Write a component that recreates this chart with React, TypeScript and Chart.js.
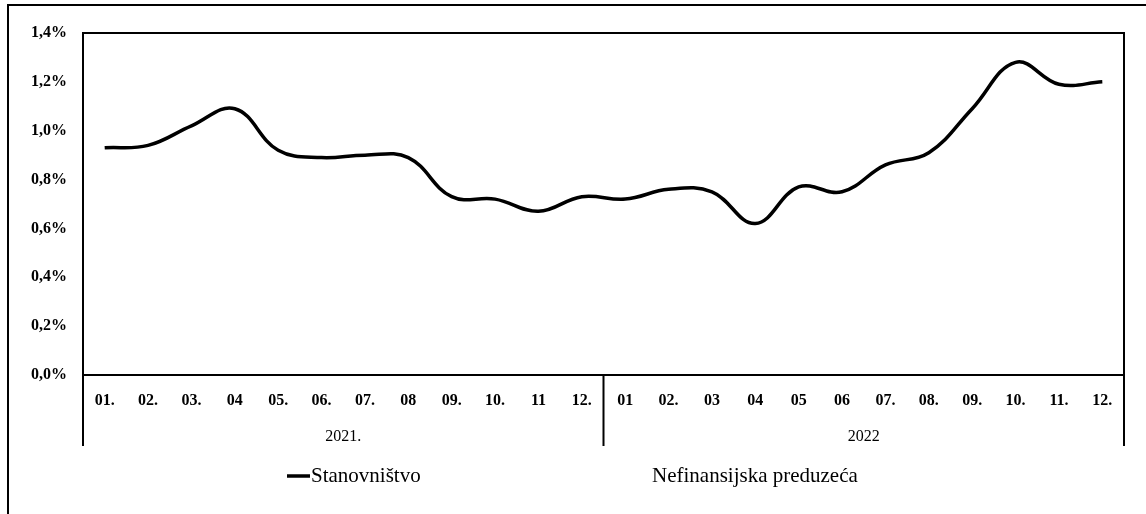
import React, { useEffect, useRef } from 'react';
import { Chart, registerables } from 'chart.js';

Chart.register(...registerables);

const monthLabels = ['01.', '02.', '03.', '04', '05.', '06.', '07.', '08', '09.', '10.', '11', '12.', '01', '02.', '03', '04', '05', '06', '07.', '08.', '09.', '10.', '11.', '12.'];
const yearLabels = ['2021.', '2022'];
const stanovnistvo = [0.93, 0.94, 1.02, 1.09, 0.92, 0.89, 0.9, 0.89, 0.73, 0.72, 0.67, 0.73, 0.72, 0.76, 0.75, 0.62, 0.77, 0.75, 0.86, 0.91, 1.09, 1.28, 1.19, 1.2];
const nefinansijska: (number | null)[] = monthLabels.map(() => null);
const seriesNames = ['Stanovništvo', 'Nefinansijska preduzeća'];

const FONT = "'Liberation Serif', 'Times New Roman', serif";

const framePlugin = {
  id: 'frame',
  afterDraw(chart: any) {
    const ctx = chart.ctx;
    const { left, right, top, bottom } = chart.chartArea;
    const xs = chart.scales.x;
    const sep = (xs.getPixelForValue(11) + xs.getPixelForValue(12)) / 2;
    const lowY = 446;
    ctx.save();
    ctx.strokeStyle = '#000';
    ctx.lineWidth = 2;
    ctx.beginPath();
    // plot box
    ctx.moveTo(left, lowY);
    ctx.lineTo(left, top);
    ctx.lineTo(right, top);
    ctx.lineTo(right, lowY);
    ctx.moveTo(left, bottom);
    ctx.lineTo(right, bottom);
    ctx.moveTo(sep, bottom);
    ctx.lineTo(sep, lowY);
    // outer frame
    ctx.moveTo(8, 514);
    ctx.lineTo(8, 5);
    ctx.lineTo(1146, 5);
    ctx.stroke();

    // year labels
    ctx.fillStyle = '#000';
    ctx.font = `16px ${FONT}`;
    ctx.textAlign = 'center';
    ctx.textBaseline = 'middle';
    ctx.fillText(yearLabels[0], (left + sep) / 2, 437);
    ctx.fillText(yearLabels[1], (sep + right) / 2, 437);

    // legend
    const ly = 476;
    ctx.lineWidth = 3.5;
    ctx.beginPath();
    ctx.moveTo(287, ly);
    ctx.lineTo(310, ly);
    ctx.stroke();
    ctx.font = `21px ${FONT}`;
    ctx.textAlign = 'left';
    ctx.fillText(seriesNames[0], 311, ly);
    ctx.fillText(seriesNames[1], 652, ly);
    ctx.restore();
  },
};

export default function App() {
  const ref = useRef<HTMLCanvasElement>(null);
  useEffect(() => {
    document.body.style.margin = '0';
    const chart = new Chart(ref.current!, {
      type: 'line',
      data: {
        labels: monthLabels,
        datasets: [
          {
            label: seriesNames[0],
            data: stanovnistvo,
            borderColor: '#000',
            backgroundColor: '#000',
            borderWidth: 3.5,
            pointRadius: 0,
            tension: 0.4,
            fill: false,
          },
          {
            label: seriesNames[1],
            data: nefinansijska,
            borderColor: '#000',
            borderWidth: 0,
            pointRadius: 0,
          },
        ],
      },
      options: {
        animation: false,
        responsive: true,
        maintainAspectRatio: false,
        layout: { padding: { left: 0, top: 33, right: 22, bottom: 99 } },
        plugins: { legend: { display: false }, tooltip: { enabled: false }, title: { display: false } },
        scales: {
          x: {
            type: 'category',
            offset: true,
            grid: { display: false, drawTicks: false, offset: true },
            border: { display: false },
            ticks: { color: '#000', font: { family: FONT, size: 16, weight: 'bold' }, padding: 16, maxRotation: 0, autoSkip: false },
            afterFit: (s: any) => { s.height = 40; },
          },
          y: {
            min: 0,
            max: 1.4,
            grid: { display: false, drawTicks: false },
            border: { display: false },
            ticks: {
              stepSize: 0.2,
              color: '#000',
              font: { family: FONT, size: 16, weight: 'bold' },
              padding: 16,
              callback: (v: any) => Number(v).toFixed(1).replace('.', ',') + '%',
            },
            afterFit: (s: any) => { s.width = 83; },
          },
        },
      },
      plugins: [framePlugin],
    });
    return () => chart.destroy();
  }, []);
  return (
    <div style={{ width: 1146, height: 514, position: 'relative', background: '#fff' }}>
      <canvas ref={ref} />
    </div>
  );
}
